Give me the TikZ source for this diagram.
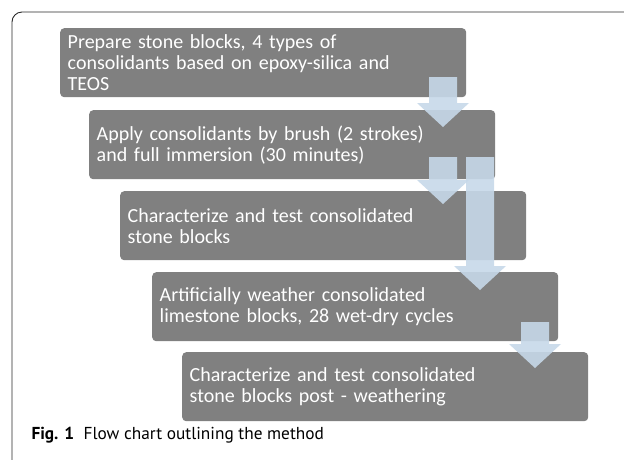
\documentclass[tikz,border=0pt]{standalone}
\usepackage{fontspec}
\setmainfont{Carlito}
\newfontfamily\captionfont{PT Sans}
\usepackage{tikz}
\usetikzlibrary{calc}

\definecolor{boxgray}{RGB}{128,128,128}
\definecolor{arrowblue}{RGB}{198,216,233}
\definecolor{framegray}{RGB}{40,40,40}

% block arrow: top of shaft -> tip
\newcommand{\stepdown}[2]{%
  \path[arrowfill] let \p1=(#1), \p2=(#2) in
    (\x1-14pt,\y1) -- (\x1+14pt,\y1) -- (\x1+14pt,\y2+24pt) -- (\x1+26pt,\y2+24pt)
    -- (\x1,\y2) -- (\x1-26pt,\y2+24pt) -- (\x1-14pt,\y2+24pt) -- cycle;}

\begin{document}
\begin{tikzpicture}[x=1pt, y=1pt,
  stepbox/.style={rectangle, rounded corners=4pt, fill=boxgray, text=white,
    anchor=north west, minimum width=406pt, minimum height=69pt,
    text width=391pt, inner xsep=7.5pt, align=left,
    font=\fontsize{20}{21}\selectfont},
  arrowfill/.style={fill=arrowblue, fill opacity=0.9}]
\useasboundingbox (0,0) rectangle (624,-459);

\draw[framegray, line width=0.9pt, rounded corners=10pt] (12,-470) -- (12,-12) -- (640,-12);

\node[stepbox](prepare) at (60,-28) {Prepare stone blocks, 4 types of\\consolidants based on epoxy-silica and\\TEOS};
\node[stepbox](apply) at (89,-110) {Apply consolidants by brush (2 strokes)\\and full immersion (30 minutes)};
\node[stepbox](test) at (120,-191) {Characterize and test consolidated\\stone blocks};
\node[stepbox](weather) at (152,-272) {Artificially weather consolidated\\limestone blocks, 28 wet-dry cycles};
\node[stepbox](post) at (182,-352) {Characterize and test consolidated\\stone blocks post - weathering};

\node[anchor=base west, font=\captionfont\fontsize{17.3}{20}\selectfont](caption) at (28,-439)
  {\textbf{Fig. 1}\hspace{0.55em}Flow chart outlining the method};

\coordinate (a1top) at (443,-77);
\coordinate (a1tip) at (443,-127);
\coordinate (a2top) at (443,-157);
\coordinate (a2tip) at (443,-204);
\coordinate (a3top) at (480,-157);
\coordinate (a3tip) at (480,-290);
\coordinate (a4top) at (535,-322);
\coordinate (a4tip) at (535,-368);

\stepdown{a1top}{a1tip}
\stepdown{a2top}{a2tip}
\stepdown{a3top}{a3tip}
\stepdown{a4top}{a4tip}
\end{tikzpicture}
\end{document}
